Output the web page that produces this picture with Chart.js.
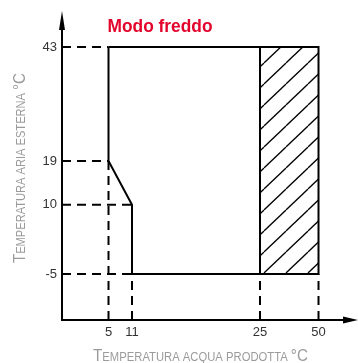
<!DOCTYPE html>
<html>
<head>
<meta charset="utf-8">
<script src="https://cdn.jsdelivr.net/npm/chart.js@4"></script>
<style>
  html, body { margin: 0; padding: 0; background: #fff; }
  #wrap { width: 358px; height: 363px; }
</style>
</head>
<body>
<div id="wrap"><canvas id="modeChart"></canvas></div>
<script>
// tick values on the two axes
const xTicks = [5, 11, 25, 50];
const yTicks = [-5, 10, 19, 43];

// operating envelope (water produced °C, outside air °C)
const envelopeX = [5, 50, 50, 11, 11, 5, 5];
const envelopeY = [43, 43, -5, -5, 10, 19, 43];

// hatched zone
const hatchX = [25, 50];
const hatchTop = 43;
const hatchBottom = -5;

// dashed guides: horizontal ones run from the y axis, vertical ones from the x axis
const hGuideY = [43, 19, 10, -5];
const hGuideToX = [5, 5, 11, 11];
const vGuideX = [5, 11, 25, 50];
const vGuideToY = [19, 10, -5, -5];

const xRange = [0, 55];
const yRange = [-15, 50];

// the drawing is schematic, not to scale: each axis maps values through knots
const scaleKnots = {
    x: [[xRange[0], 0], [5, 0.1673], [11, 0.2518], [25, 0.7122], [50, 0.9227], [xRange[1], 1]],
    y: [[yRange[0], 0], [-5, 0.1513], [10, 0.3793], [19, 0.523], [43, 0.898], [yRange[1], 1]]
};

class KnotScale extends Chart.LinearScale {
    decimalFor(value) {
        const k = scaleKnots[this.id];
        for (let i = 1; i < k.length; i++) {
            if (value <= k[i][0] || i === k.length - 1) {
                const [v0, d0] = k[i - 1];
                const [v1, d1] = k[i];
                return d0 + (value - v0) / (v1 - v0) * (d1 - d0);
            }
        }
    }
    getPixelForValue(value) {
        if (value === null || isNaN(value)) return NaN;
        return this.getPixelForDecimal(this.decimalFor(value));
    }
    getValueForPixel(pixel) {
        const d = this.getDecimalForPixel(pixel);
        const k = scaleKnots[this.id];
        for (let i = 1; i < k.length; i++) {
            if (d <= k[i][1] || i === k.length - 1) {
                const [v0, d0] = k[i - 1];
                const [v1, d1] = k[i];
                return v0 + (d - d0) / (d1 - d0) * (v1 - v0);
            }
        }
    }
}
KnotScale.id = 'knot';
KnotScale.defaults = Chart.LinearScale.defaults;
Chart.register(KnotScale);

// diagonal hatch pattern
function makeHatch() {
    const w = 22, h = 21;
    const tile = document.createElement('canvas');
    tile.width = w;
    tile.height = h;
    const c = tile.getContext('2d');
    c.strokeStyle = '#000';
    c.lineWidth = 1.3;
    for (const off of [-w, 0, w]) {
        c.beginPath();
        c.moveTo(off, h);
        c.lineTo(off + w, 0);
        c.stroke();
    }
    return c.createPattern(tile, 'repeat');
}

const tickFont = "'Liberation Sans', Arial, sans-serif";
const dash = [9, 6];

const guideSets = [];
hGuideY.forEach((y, i) => {
    guideSets.push({
        data: [{ x: xRange[0], y: y }, { x: hGuideToX[i], y: y }],
        borderColor: '#000', borderWidth: 2, borderDash: dash,
        pointRadius: 0, fill: false
    });
});
vGuideX.forEach((x, i) => {
    guideSets.push({
        data: [{ x: x, y: yRange[0] }, { x: x, y: vGuideToY[i] }],
        borderColor: '#000', borderWidth: 2, borderDash: dash,
        pointRadius: 0, fill: false
    });
});

// draw a label squeezed to a given width (the original uses a condensed face)
function squeezedText(ctx, text, width) {
    const w = ctx.measureText(text).width;
    ctx.save();
    ctx.scale(Math.min(1, width / w), 1);
    ctx.fillText(text, 0, 0);
    ctx.restore();
}

// small caps by hand: capitals at full size, the rest as smaller capitals,
// centred on the origin and squeezed to the given width
function smallCapsText(ctx, text, width, big, small) {
    const fam = "'Liberation Sans', Arial, sans-serif";
    const runs = [];
    for (const ch of text) {
        const isBig = ch !== ch.toLowerCase() || ch === '°';
        const size = isBig ? big : small;
        const last = runs[runs.length - 1];
        if (last && last.size === size) last.text += ch.toUpperCase();
        else runs.push({ size: size, text: ch.toUpperCase() });
    }
    let total = 0;
    runs.forEach(r => {
        ctx.font = r.size + 'px ' + fam;
        r.w = ctx.measureText(r.text).width;
        total += r.w;
    });
    ctx.save();
    ctx.scale(width / total, 1);
    ctx.textAlign = 'left';
    let x = -total / 2;
    runs.forEach(r => {
        ctx.font = r.size + 'px ' + fam;
        ctx.fillText(r.text, x, 0);
        x += r.w;
    });
    ctx.restore();
}

const axesPlugin = {
    id: 'axesAndTitles',
    afterDatasetsDraw(chart) {
        const { ctx, chartArea } = chart;
        const left = chartArea.left, bottom = chartArea.bottom;
        ctx.save();
        ctx.strokeStyle = '#000';
        ctx.fillStyle = '#000';
        ctx.lineWidth = 2;
        ctx.beginPath();
        ctx.moveTo(left, 24);
        ctx.lineTo(left, bottom);
        ctx.lineTo(346, bottom);
        ctx.stroke();
        // arrow heads
        ctx.beginPath();
        ctx.moveTo(left, 11);
        ctx.lineTo(left - 3, 30);
        ctx.lineTo(left + 3, 30);
        ctx.closePath();
        ctx.fill();
        ctx.beginPath();
        ctx.moveTo(358, bottom);
        ctx.lineTo(343, bottom - 3.5);
        ctx.lineTo(343, bottom + 3.5);
        ctx.closePath();
        ctx.fill();
        ctx.restore();
    },
    afterDraw(chart) {
        const { ctx, scales } = chart;
        ctx.save();
        ctx.fillStyle = '#e3042c';
        ctx.font = "bold 17.5px 'Liberation Sans', Arial, sans-serif";
        ctx.textAlign = 'left';
        ctx.textBaseline = 'alphabetic';
        ctx.save();
        ctx.translate(scales.x.getPixelForValue(xTicks[0]) - 1, 32);
        squeezedText(ctx, 'Modo freddo', 105);
        ctx.restore();

        ctx.fillStyle = '#9b9b9b';
        ctx.save();
        ctx.translate(200.5, 361);
        smallCapsText(ctx, 'Temperatura acqua prodotta °C', 215, 17, 12.5);
        ctx.restore();

        ctx.translate(25, 168);
        ctx.rotate(-Math.PI / 2);
        smallCapsText(ctx, 'Temperatura aria esterna °C', 190, 17, 12.5);
        ctx.restore();
    }
};

const ctx = document.getElementById('modeChart').getContext('2d');
new Chart(ctx, {
    type: 'line',
    data: {
        datasets: [
            {
                data: hatchX.map(x => ({ x: x, y: hatchTop })),
                borderWidth: 0,
                backgroundColor: makeHatch(),
                pointRadius: 0,
                fill: { value: hatchBottom }
            },
            ...guideSets,
            {
                data: [{ x: hatchX[0], y: hatchBottom }, { x: hatchX[0], y: hatchTop }],
                borderColor: '#000', borderWidth: 2, pointRadius: 0, fill: false
            },
            {
                data: envelopeX.map((x, i) => ({ x: x, y: envelopeY[i] })),
                borderColor: '#000', borderWidth: 2, pointRadius: 0, fill: false,
                borderJoinStyle: 'miter'
            }
        ]
    },
    options: {
        responsive: true,
        maintainAspectRatio: false,
        animation: false,
        layout: { padding: { left: 0, right: 18, top: 16, bottom: 0 } },
        plugins: {
            legend: { display: false },
            tooltip: { enabled: false }
        },
        scales: {
            x: {
                type: 'knot',
                min: xRange[0], max: xRange[1],
                grid: { display: false, drawTicks: false },
                border: { display: false },
                afterBuildTicks: s => { s.ticks = xTicks.map(v => ({ value: v })); },
                afterFit: s => { s.height = 43; },
                ticks: {
                    autoSkip: false, maxRotation: 0, padding: 5,
                    color: '#333', font: { family: tickFont, size: 13 },
                    callback: v => String(v)
                }
            },
            y: {
                type: 'knot',
                min: yRange[0], max: yRange[1],
                grid: { display: false, drawTicks: false },
                border: { display: false },
                afterBuildTicks: s => { s.ticks = yTicks.map(v => ({ value: v })); },
                afterFit: s => { s.width = 62; },
                ticks: {
                    autoSkip: false, padding: 5,
                    color: '#333', font: { family: tickFont, size: 13 },
                    callback: v => String(v)
                }
            }
        }
    },
    plugins: [axesPlugin]
});
</script>
</body>
</html>
